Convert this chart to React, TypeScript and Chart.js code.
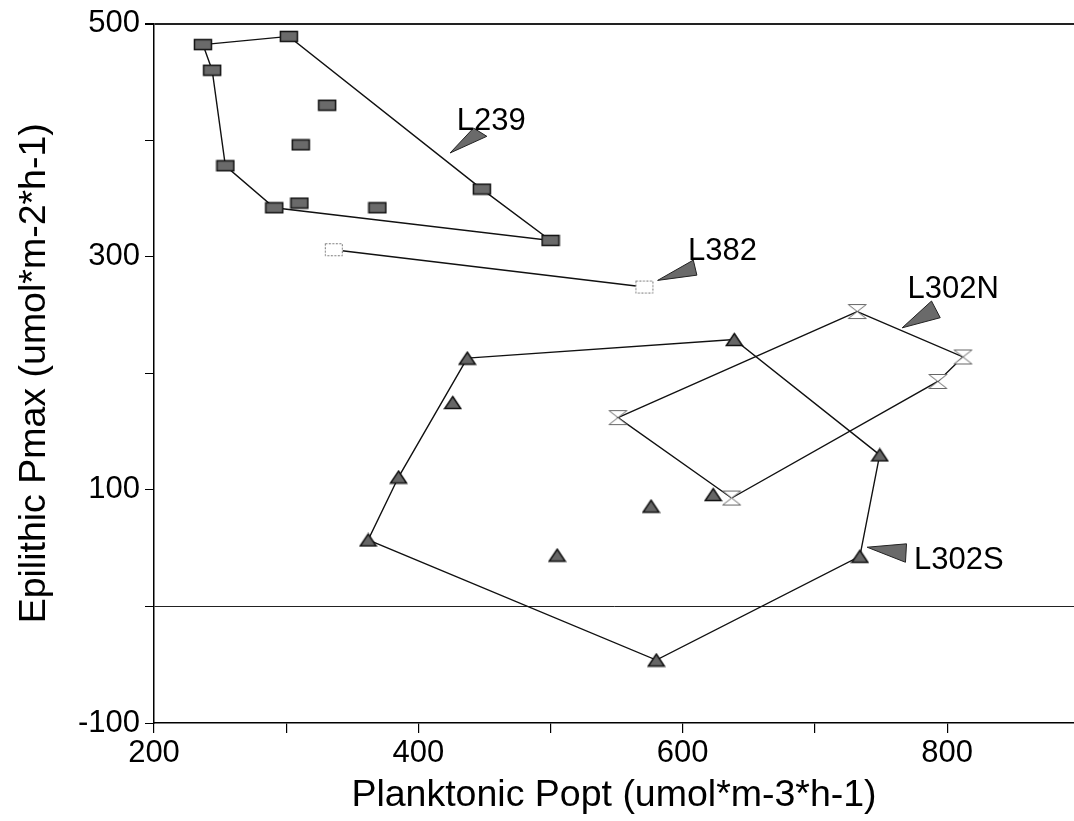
import { useEffect, useRef } from 'react';
import { Chart, registerables } from 'chart.js';

Chart.register(...registerables);

// ---- data (x: Planktonic Popt, y: Epilithic Pmax) ----
const l239X = [237, 302, 244, 331, 311, 254, 291, 310, 369, 448, 500];
const l239Y = [482, 489, 460, 430, 396, 378, 342, 346, 342, 358, 314];
const l239Hull = [0, 1, 9, 10, 6, 5, 2, 0];

const l382X = [336, 571];
const l382Y = [306, 274];
const l382Hull = [0, 1];

const l302nX = [732, 812, 793, 637, 551];
const l302nY = [253, 214, 193, 93, 162];
const l302nHull = [0, 1, 2, 3, 4, 0];

const l302sX = [437, 639, 426, 385, 362, 505, 576, 623, 580, 749, 734];
const l302sY = [213, 229, 175, 111, 57, 44, 86, 96, -46, 130, 43];
const l302sHull = [0, 1, 9, 10, 8, 4, 3, 0];

const xTickValues = [200, 300, 400, 500, 600, 700, 800];
const xTickLabels = [200, 400, 600, 800];
const yTickLabels = [500, 300, 100, -100];

// annotation labels with arrow (data coordinates)
const annotNames = ['L239', 'L382', 'L302N', 'L302S'];
const annotTextX = [429, 604, 770, 775];
const annotTextY = [409, 297, 265, 32.5];
const annotTipX = [424, 581, 766, 739.5];
const annotTipY = [389, 279.7, 239, 50.8];
const annotB1X = [441.7, 608, 788.2, 769.3];
const annotB1Y = [410.4, 297.1, 262, 53.7];
const annotB2X = [451.8, 610.7, 794.8, 768.5];
const annotB2Y = [403.3, 284.2, 247.7, 37.9];

const FONT = "'Liberation Sans', Arial, Helvetica, sans-serif";

function pts(xs: number[], ys: number[]) {
  return xs.map((x, i) => ({ x, y: ys[i] }));
}
function hull(xs: number[], ys: number[], idx: number[]) {
  return idx.map((i) => ({ x: xs[i], y: ys[i] }));
}

function makeCanvas(w: number, h: number, draw: (c: CanvasRenderingContext2D) => void) {
  const c = document.createElement('canvas');
  c.width = w;
  c.height = h;
  const ctx = c.getContext('2d')!;
  draw(ctx);
  return c;
}

export default function App() {
  const ref = useRef<HTMLCanvasElement>(null);

  useEffect(() => {
    if (!ref.current) return;

    const rectMarker = makeCanvas(20, 13, (c) => {
      c.fillStyle = '#6a6a6a';
      c.fillRect(1, 1, 18, 11);
      c.strokeStyle = '#111';
      c.lineWidth = 1.5;
      c.strokeRect(1.5, 1.5, 17, 10);
    });
    const openRect = makeCanvas(20, 15, (c) => {
      c.fillStyle = '#fff';
      c.fillRect(1, 1, 18, 13);
      c.strokeStyle = '#777';
      c.lineWidth = 1;
      c.setLineDash([2, 1.5]);
      c.strokeRect(1.5, 1.5, 17, 12);
    });
    const hourglass = makeCanvas(21, 17, (c) => {
      c.fillStyle = '#fff';
      c.strokeStyle = '#666';
      c.lineWidth = 1;
      c.beginPath();
      c.moveTo(1.5, 1.5);
      c.lineTo(19.5, 1.5);
      c.lineTo(10.5, 8.5);
      c.closePath();
      c.moveTo(10.5, 8.5);
      c.lineTo(19.5, 15.5);
      c.lineTo(1.5, 15.5);
      c.closePath();
      c.fill();
      c.stroke();
    });
    const triMarker = makeCanvas(19, 15, (c) => {
      c.fillStyle = '#666';
      c.strokeStyle = '#111';
      c.lineWidth = 1.5;
      c.beginPath();
      c.moveTo(9.5, 1.5);
      c.lineTo(17.5, 13.5);
      c.lineTo(1.5, 13.5);
      c.closePath();
      c.fill();
      c.stroke();
    });

    const lineDs = (data: { x: number; y: number }[]) => ({
      data,
      showLine: true,
      borderColor: '#111',
      borderWidth: 1.4,
      pointRadius: 0,
      pointHoverRadius: 0,
      fill: false,
      order: 2,
    });
    const pointDs = (data: { x: number; y: number }[], style: HTMLCanvasElement) => ({
      data,
      showLine: false,
      pointStyle: style,
      pointRadius: 8,
      pointHoverRadius: 8,
      order: 1,
    });

    const annotPlugin = {
      id: 'annot',
      afterDatasetsDraw(chart: any) {
        const { ctx, scales } = chart;
        const xs = scales.x;
        const ys = scales.y;
        ctx.save();
        annotNames.forEach((name, i) => {
          const tx = xs.getPixelForValue(annotTipX[i]);
          const ty = ys.getPixelForValue(annotTipY[i]);
          const b1x = xs.getPixelForValue(annotB1X[i]);
          const b1y = ys.getPixelForValue(annotB1Y[i]);
          const b2x = xs.getPixelForValue(annotB2X[i]);
          const b2y = ys.getPixelForValue(annotB2Y[i]);
          ctx.beginPath();
          ctx.moveTo(tx, ty);
          ctx.lineTo(b1x, b1y);
          ctx.lineTo(b2x, b2y);
          ctx.closePath();
          ctx.fillStyle = '#6a6a6a';
          ctx.fill();
          ctx.strokeStyle = '#222';
          ctx.lineWidth = 1;
          ctx.stroke();
          ctx.fillStyle = '#000';
          ctx.font = `31px ${FONT}`;
          ctx.textAlign = 'left';
          ctx.textBaseline = 'alphabetic';
          ctx.fillText(name, xs.getPixelForValue(annotTextX[i]), ys.getPixelForValue(annotTextY[i]));
        });
        ctx.restore();
      },
    };

    const chart = new Chart(ref.current, {
      type: 'scatter',
      data: {
        datasets: [
          pointDs(pts(l239X, l239Y), rectMarker),
          pointDs(pts(l382X, l382Y), openRect),
          pointDs(pts(l302nX, l302nY), hourglass),
          pointDs(pts(l302sX, l302sY), triMarker),
          lineDs(hull(l239X, l239Y, l239Hull)),
          lineDs(hull(l382X, l382Y, l382Hull)),
          lineDs(hull(l302nX, l302nY, l302nHull)),
          lineDs(hull(l302sX, l302sY, l302sHull)),
        ] as any,
      },
      options: {
        responsive: false,
        animation: false,
        devicePixelRatio: 1,
        layout: { autoPadding: false, padding: { top: 22, left: 0, right: 0, bottom: 0 } },
        plugins: { legend: { display: false }, tooltip: { enabled: false } },
        scales: {
          x: {
            type: 'linear',
            position: 'bottom',
            min: 200,
            max: 896,
            afterBuildTicks: (s: any) => {
              s.ticks = xTickValues.map((v) => ({ value: v }));
            },
            afterFit: (s: any) => {
              s.height = 98;
            },
            ticks: {
              autoSkip: false,
              maxRotation: 0,
              minRotation: 0,
              color: '#000',
              padding: 2,
              font: { family: FONT, size: 31 },
              callback: (v: any) => (xTickLabels.includes(Number(v)) ? String(v) : ''),
            },
            grid: { drawOnChartArea: false, tickLength: 10, color: '#000', tickColor: '#000', lineWidth: 1.2 },
            border: { color: '#000', width: 1.5 },
            title: {
              display: true,
              text: 'Planktonic Popt (umol*m-3*h-1)',
              color: '#000',
              font: { family: FONT, size: 37.5 },
              padding: { top: 0, bottom: 3 },
            },
          },
          y: {
            type: 'linear',
            min: -100,
            max: 500,
            afterFit: (s: any) => {
              s.width = 154;
            },
            ticks: {
              stepSize: 100,
              autoSkip: false,
              color: '#000',
              padding: 5,
              font: { family: FONT, size: 31 },
              callback: (v: any) => (yTickLabels.includes(Number(v)) ? String(v) : ''),
            },
            grid: {
              drawOnChartArea: true,
              tickLength: 9,
              tickColor: '#000',
              color: (c: any) =>
                c.tick && (c.tick.value === 0 || c.tick.value === 500) ? '#222' : 'rgba(0,0,0,0)',
              lineWidth: (c: any) => (c.tick && c.tick.value === 500 ? 2 : 1),
            },
            border: { color: '#000', width: 1.5 },
            title: {
              display: true,
              text: 'Epilithic Pmax (umol*m-2*h-1)',
              color: '#000',
              font: { family: FONT, size: 37.5 },
              padding: { top: 12, bottom: 0 },
            },
          },
        },
      } as any,
      plugins: [annotPlugin],
    });

    return () => chart.destroy();
  }, []);

  return (
    <div
      style={{
        position: 'absolute',
        left: 0,
        top: 0,
        width: 1074,
        height: 821,
        overflow: 'hidden',
        background: '#fff',
      }}
    >
      <canvas ref={ref} width={1074} height={821} style={{ display: 'block', width: 1074, height: 821 }} />
    </div>
  );
}
